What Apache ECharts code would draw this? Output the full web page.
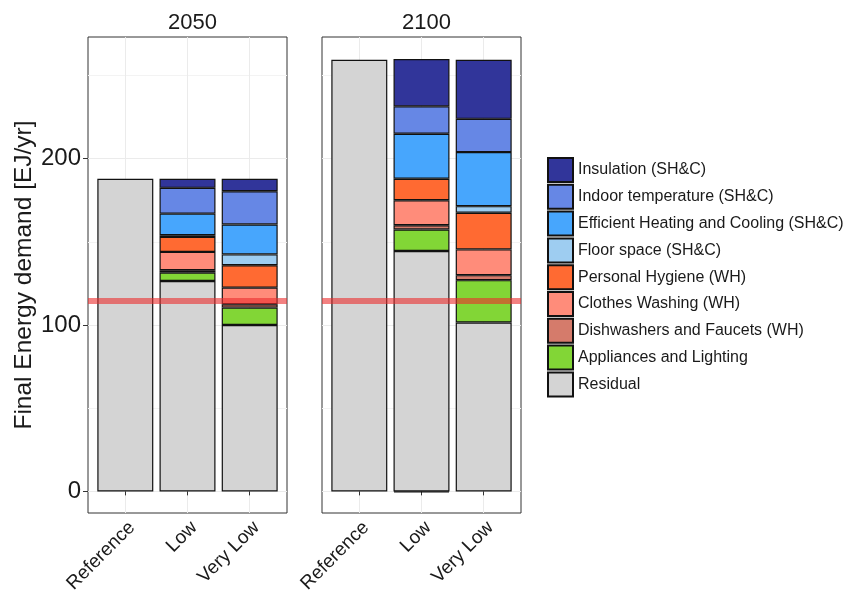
<!DOCTYPE html>
<html><head><meta charset="utf-8">
<script src="https://cdn.jsdelivr.net/npm/echarts@6/dist/echarts.min.js"></script>
<style>html,body{margin:0;padding:0;background:#fff}#c{width:843px;height:598px}</style>
</head><body><div id="c"></div>
<script>
const panels = ['2050', '2100'];
const scenarios = ['Reference', 'Low', 'Very Low'];
const scenarioPos = [1, 2, 3];
const yTicks = [0, 100, 200];
const yMinor = [50, 150, 250];
const targetLine = 114.5;
// order within each array: 2050 [Reference, Low, Very Low], 2100 [Reference, Low, Very Low]
const residual    = [188, 126.5, 100,   259.5, 144.5, 101.5];
const appliances  = [0,   5,     10.5,  0,     13,    25.5];
const dishwashers = [0,   1.5,   2,     0,     2.5,   3];
const clothes     = [0,   11,    10,    0,     15,    15.5];
const hygiene     = [0,   9,     13.5,  0,     13,    22];
const floorSpace  = [0,   1,     6.5,   0,     -0.6,  4];
const efficient   = [0,   13,    18,    0,     27,    32.5];
const indoor      = [0,   15.5,  20,    0,     16.5,  20];
const insulation  = [0,   5.5,   7.5,   0,     28.5,  35.5];

const stackOrder = [
  ['Residual', residual, '#D4D4D4'],
  ['Appliances and Lighting', appliances, '#82D636'],
  ['Dishwashers and Faucets (WH)', dishwashers, '#D57B6B'],
  ['Clothes Washing (WH)', clothes, '#FF8C7A'],
  ['Personal Hygiene (WH)', hygiene, '#FF6A32'],
  ['Floor space (SH&C)', floorSpace, '#9ECDF1'],
  ['Efficient Heating and Cooling (SH&C)', efficient, '#47A6FD'],
  ['Indoor temperature (SH&C)', indoor, '#6687E5'],
  ['Insulation (SH&C)', insulation, '#31359A']
];
const legendOrder = stackOrder.map(s => s[0]).reverse();

const FONT = 'Liberation Sans, Arial, Helvetica, sans-serif';
const TXT = '#1a1a1a';
const yMin = -13, yMax = 273.2;
const xMin = 0.4, xMax = 3.6;
const panelLeft = [88, 322];
const panelW = 199, panelTop = 37, panelH = 476;

const grids = [], xAxes = [], yAxes = [], series = [], titles = [];
panels.forEach((p, pi) => {
  const outer = grids.length;
  grids.push({left: panelLeft[pi], top: panelTop, width: panelW, height: panelH, show: true,
    borderColor: '#333', borderWidth: 1, backgroundColor: '#fff'});
  const unit = panelW / (xMax - xMin);
  const inset = (1 - 0.5 - xMin) * unit;
  const inner = grids.length;
  grids.push({left: panelLeft[pi] + inset, top: panelTop, width: panelW - 2 * inset, height: panelH, show: false});

  titles.push({text: p, left: panelLeft[pi] + panelW / 2, top: 7, textAlign: 'center',
    textStyle: {fontFamily: FONT, fontSize: 22, fontWeight: 'normal', color: TXT}});

  const xo = xAxes.length;
  xAxes.push({type: 'value', gridIndex: outer, min: xMin, max: xMax,
    axisLine: {show: false},
    axisTick: {show: true, length: 4, lineStyle: {color: '#333'}, customValues: scenarioPos},
    axisLabel: {customValues: scenarioPos, rotate: 45, fontSize: 19, fontFamily: FONT, color: TXT, margin: 5,
      align: 'right', verticalAlign: 'top', formatter: v => scenarios[Math.round(v) - 1]},
    splitLine: {show: true, lineStyle: {color: '#ebebeb', width: 1}}
  });
  const xi = xAxes.length;
  xAxes.push({type: 'category', gridIndex: inner, data: scenarios, show: false});

  const yo = yAxes.length;
  yAxes.push({type: 'value', gridIndex: outer, min: yMin, max: yMax,
    axisLine: {show: false},
    axisTick: {show: pi === 0, length: 5, lineStyle: {color: '#333'}, customValues: yTicks},
    axisLabel: {show: pi === 0, customValues: yTicks, fontSize: 24, fontFamily: FONT, color: TXT, margin: 7},
    splitLine: {show: true, lineStyle: {color: '#ebebeb', width: 1}},
    name: pi === 0 ? 'Final Energy demand [EJ/yr]' : '',
    nameLocation: 'middle', nameGap: 51,
    nameTextStyle: {fontSize: 24.5, fontFamily: FONT, color: TXT}
  });
  yAxes.push({type: 'value', gridIndex: outer, min: yMin, max: yMax,
    axisLine: {show: false},
    axisTick: {show: false, customValues: yMinor},
    axisLabel: {show: false, customValues: yMinor},
    splitLine: {show: true, lineStyle: {color: '#f3f3f3', width: 1}}
  });
  const yi = yAxes.length;
  yAxes.push({type: 'value', gridIndex: inner, min: yMin, max: yMax, show: false, splitLine: {show: false}});

  stackOrder.forEach(([name, vals, color]) => {
    series.push({
      type: 'bar', name, stack: 'p' + pi, xAxisIndex: xi, yAxisIndex: yi,
      barWidth: '90%',
      itemStyle: {color, borderColor: '#111', borderWidth: 1.2},
      data: scenarios.map((s, i) => {
        const v = vals[pi * 3 + i];
        return v === 0 ? '-' : v;
      })
    });
  });
  series.push({
    type: 'line', xAxisIndex: xo, yAxisIndex: yo, data: [], z: 10, silent: true,
    markLine: {silent: true, symbol: 'none', label: {show: false},
      lineStyle: {color: 'rgba(235,45,45,0.6)', width: 6, type: 'solid'},
      data: [{yAxis: targetLine}]}
  });
});

const chart = echarts.init(document.getElementById('c'), null, {renderer: 'canvas'});
chart.setOption({
  animation: false,
  backgroundColor: '#fff',
  title: titles,
  grid: grids,
  xAxis: xAxes,
  yAxis: yAxes,
  legend: {data: legendOrder, orient: 'vertical', left: 547, top: 157, padding: 0,
    itemWidth: 25, itemHeight: 24, itemGap: 0.8, icon: 'rect',
    textStyle: {fontSize: 16, fontFamily: FONT, color: TXT}, selectedMode: false},
  series
});
</script></body></html>
